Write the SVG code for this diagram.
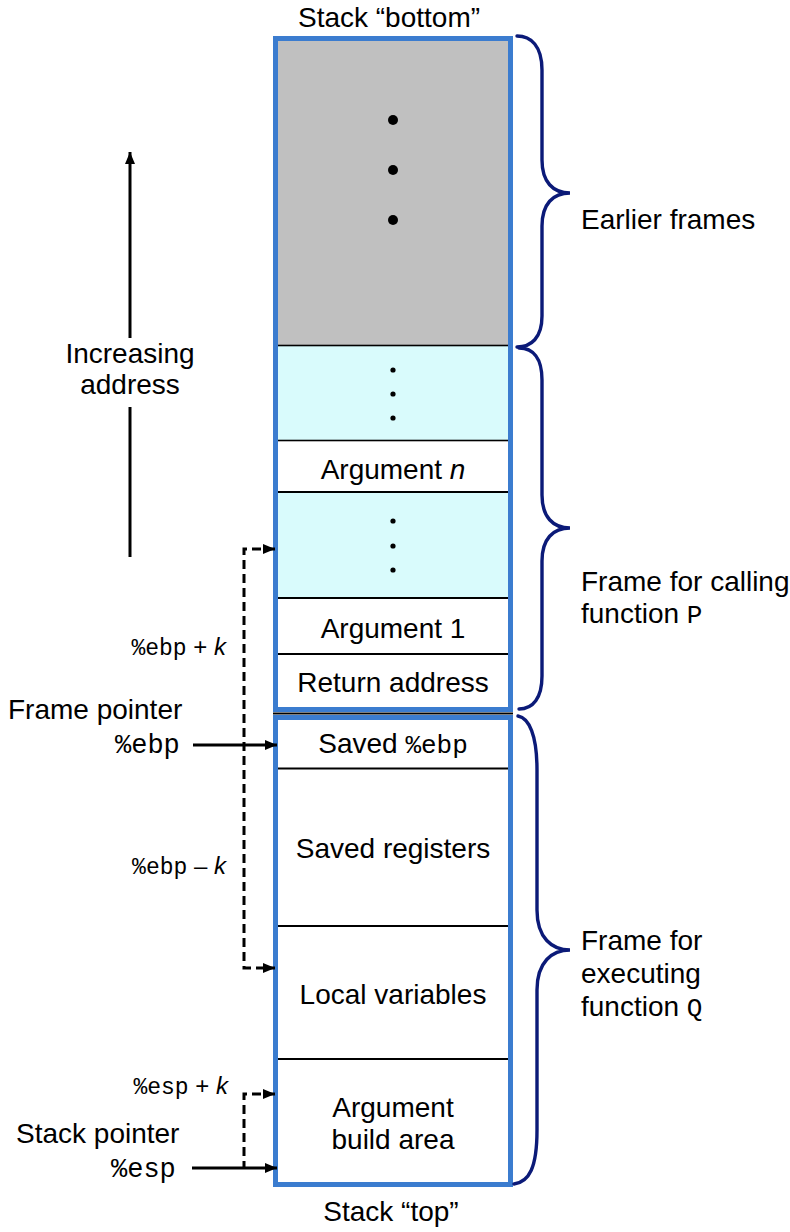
<svg xmlns="http://www.w3.org/2000/svg" width="790" height="1232" viewBox="0 0 790 1232">
<defs>
<style>
.t{font-family:"Liberation Sans",Arial,sans-serif;font-size:28px;fill:#000}
.m{font-family:"Liberation Mono","Courier New",monospace;fill:#000}
.s{font-family:"Liberation Sans",Arial,sans-serif;font-size:24px;fill:#000}
.frame{fill:none;stroke:#3b7ccf;stroke-width:5}
.sep{stroke:#000;stroke-width:2}
.brace{fill:none;stroke:#0b1a78;stroke-width:3.4;stroke-linecap:round}
.arr{fill:none;stroke:#000;stroke-width:3}
.dash{fill:none;stroke:#000;stroke-width:3;stroke-dasharray:9 5}
</style>
<marker id="ah" markerUnits="userSpaceOnUse" viewBox="0 0 12 10" refX="12" refY="5" markerWidth="12" markerHeight="10" orient="auto-start-reverse">
<path d="M0,0 L12,5 L0,10 z" fill="#000"/>
</marker>
</defs>

<g id="earlier-frames">
<rect x="275.5" y="38.5" width="235" height="307" fill="#c0c0c0"/>
<circle cx="393" cy="120" r="5" fill="#000"/>
<circle cx="393" cy="170" r="5" fill="#000"/>
<circle cx="393" cy="220" r="5" fill="#000"/>
</g>

<g id="caller-upper">
<rect x="275.5" y="345.5" width="236" height="95" fill="#d9fbfc" stroke="#000" stroke-width="1.6"/>
<circle cx="393" cy="370" r="2.6" fill="#000"/>
<circle cx="393" cy="394" r="2.6" fill="#000"/>
<circle cx="393" cy="418" r="2.6" fill="#000"/>
</g>

<g id="arg-n">
<text class="t" x="393" y="479" text-anchor="middle">Argument <tspan font-style="italic">n</tspan></text>
</g>

<g id="caller-args">
<rect x="277" y="493" width="232" height="105" fill="#d9fbfc"/>
<circle cx="393" cy="521" r="2.6" fill="#000"/>
<circle cx="393" cy="546" r="2.6" fill="#000"/>
<circle cx="393" cy="570" r="2.6" fill="#000"/>
</g>

<g id="arg-1">
<text class="t" x="393" y="638" text-anchor="middle">Argument 1</text>
</g>

<g id="return-address">
<text class="t" x="393" y="692" text-anchor="middle">Return address</text>
</g>

<g id="saved-ebp">
<text class="t" x="393" y="753" text-anchor="middle">Saved <tspan class="m" font-size="26">%ebp</tspan></text>
</g>

<g id="saved-registers">
<text class="t" x="393" y="858" text-anchor="middle">Saved registers</text>
</g>

<g id="local-variables">
<text class="t" x="393" y="1004" text-anchor="middle">Local variables</text>
</g>

<g id="argument-build-area">
<text class="t" x="393" y="1117" text-anchor="middle">Argument</text>
<text class="t" x="393" y="1149" text-anchor="middle">build area</text>
</g>

<g id="separators">
<line class="sep" x1="277" y1="492" x2="509" y2="492"/>
<line class="sep" x1="277" y1="598" x2="509" y2="598"/>
<line class="sep" x1="277" y1="654" x2="509" y2="654"/>
<line class="sep" x1="273" y1="713.5" x2="513" y2="713.5"/>
<line class="sep" x1="277" y1="768.5" x2="509" y2="768.5"/>
<line class="sep" x1="277" y1="926" x2="509" y2="926"/>
<line class="sep" x1="277" y1="1059" x2="509" y2="1059"/>
</g>

<g id="frame-p-box">
<rect class="frame" x="275.5" y="38.5" width="235" height="671"/>
</g>
<g id="frame-q-box">
<rect class="frame" x="275.5" y="717.5" width="235" height="467"/>
</g>

<g id="stack-bottom-label">
<text class="t" x="389" y="27" text-anchor="middle">Stack “bottom”</text>
</g>
<g id="stack-top-label">
<text class="t" x="391" y="1221" text-anchor="middle">Stack “top”</text>
</g>

<g id="increasing-address">
<text class="t" x="130" y="363" text-anchor="middle">Increasing</text>
<text class="t" x="130" y="394" text-anchor="middle">address</text>
</g>

<g id="frame-pointer-label">
<text class="t" x="8" y="719">Frame pointer</text>
<text class="m" x="115" y="753" font-size="27">%ebp</text>
</g>

<g id="stack-pointer-label">
<text class="t" x="16" y="1143">Stack pointer</text>
<text class="m" x="111" y="1177" font-size="27">%esp</text>
</g>

<g id="ebp-plus-k">
<text class="s" x="226" y="655" text-anchor="end"><tspan class="m" font-size="23">%ebp</tspan> + <tspan font-style="italic">k</tspan></text>
</g>
<g id="ebp-minus-k">
<text class="s" x="226" y="874" text-anchor="end"><tspan class="m" font-size="23">%ebp</tspan> – <tspan font-style="italic">k</tspan></text>
</g>
<g id="esp-plus-k">
<text class="s" x="228" y="1094" text-anchor="end"><tspan class="m" font-size="23">%esp</tspan> + <tspan font-style="italic">k</tspan></text>
</g>

<g id="earlier-frames-label">
<text class="t" x="581" y="229">Earlier frames</text>
</g>
<g id="frame-p-label">
<text class="t" x="581" y="591">Frame for calling</text>
<text class="t" x="581" y="623">function <tspan class="m" font-size="26">P</tspan></text>
</g>
<g id="frame-q-label">
<text class="t" x="581" y="950">Frame for</text>
<text class="t" x="581" y="983">executing</text>
<text class="t" x="581" y="1016">function <tspan class="m" font-size="26">Q</tspan></text>
</g>

<g id="connectors">
<path class="arr" d="M130,338 L130,152" marker-end="url(#ah)"/>
<path class="arr" d="M130,407 L130,557"/>
<path class="arr" d="M193,745 L277,745" marker-end="url(#ah)"/>
<path class="arr" d="M192,1168 L277,1168" marker-end="url(#ah)"/>
<path class="dash" d="M275,549 L244,549 L244,968 L275,968" marker-start="url(#ah)" marker-end="url(#ah)"/>
<path class="dash" d="M275,1094 L244,1094 L244,1168" marker-start="url(#ah)"/>
<path class="brace" d="M517,36 C531,36 542,46 542,70 L542,160 C542,182 553,193 570,193 C553,193 542,204 542,226 L542,316 C542,338 531,347 517,347"/>
<path class="brace" d="M519,348 C533,348 542,358 542,380 L542,495 C542,517 553,528 570,528 C553,528 542,539 542,561 L542,676 C542,698 533,709 519,709"/>
<path class="brace" d="M518,716 C529,718 537,735 537,770 L537,910 C537,938 552,950 570,950 C552,950 537,962 537,990 L537,1130 C537,1168 529,1182 514,1184"/>
</g>
</svg>
